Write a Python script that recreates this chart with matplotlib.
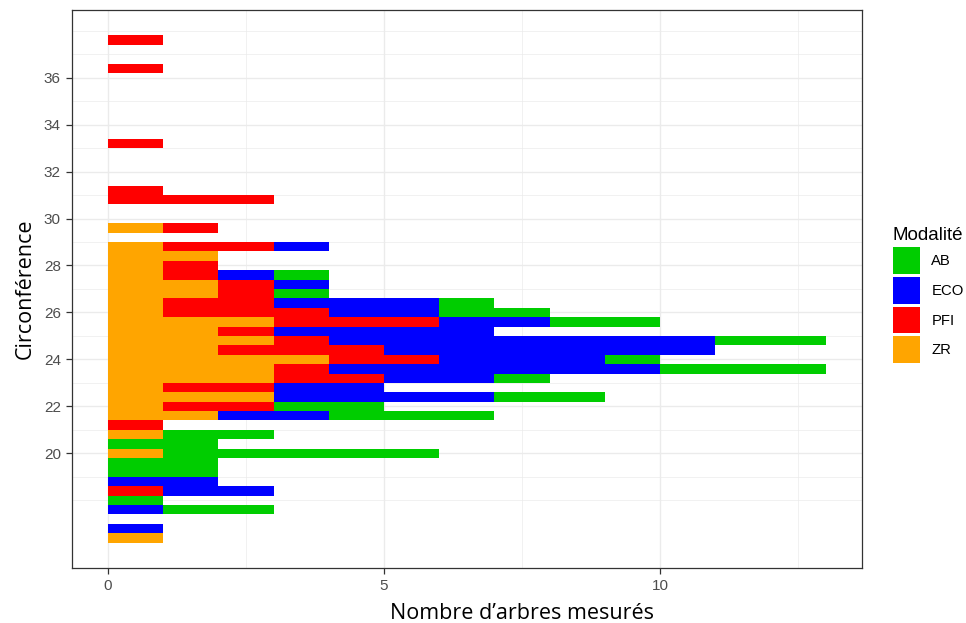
import numpy as np
import matplotlib
matplotlib.use("Agg")
import matplotlib.pyplot as plt
from matplotlib.patches import Patch

# histogram bins (circumference), width 0.4 starting at 16.2
bin_start = 16.2
bin_width = 0.4
n_bins = 54

# counts per bin, bottom to top (16.2 -> 37.8)
zr = [1, 0, 0, 0, 0, 0, 0, 0, 0, 1, 0, 1, 0, 2, 1, 3, 1, 3, 3, 4, 2, 3, 2, 3, 1, 1, 2,
      2, 1, 1, 2, 1, 0, 1, 0, 0, 0, 0, 0, 0, 0, 0, 0, 0, 0, 0, 0, 0, 0, 0, 0, 0, 0, 0]
pfi = [0, 0, 0, 0, 0, 1, 0, 0, 0, 0, 0, 0, 1, 0, 2, 0, 2, 2, 1, 2, 3, 1, 1, 3, 3, 2, 1,
       1, 1, 1, 0, 2, 0, 1, 0, 0, 3, 1, 0, 0, 0, 0, 1, 0, 0, 0, 0, 0, 0, 0, 1, 0, 0, 1]
eco = [0, 1, 0, 1, 0, 2, 2, 0, 0, 0, 0, 0, 0, 2, 0, 4, 2, 2, 6, 3, 6, 7, 4, 2, 2, 3, 0,
       1, 1, 0, 0, 1, 0, 0, 0, 0, 0, 0, 0, 0, 0, 0, 0, 0, 0, 0, 0, 0, 0, 0, 0, 0, 0, 0]
ab = [0, 0, 0, 2, 1, 0, 0, 2, 2, 5, 2, 2, 0, 3, 2, 2, 0, 1, 3, 1, 0, 2, 0, 2, 2, 1, 1,
      0, 1, 0, 0, 0, 0, 0, 0, 0, 0, 0, 0, 0, 0, 0, 0, 0, 0, 0, 0, 0, 0, 0, 0, 0, 0, 0]

groupes = ["AB", "ECO", "PFI", "ZR"]
couleurs = {"AB": "#00CD00", "ECO": "#0000FF", "PFI": "#FF0000", "ZR": "#FFA500"}

edges = bin_start + bin_width * np.arange(n_bins)

fig = plt.figure(figsize=(9.66, 6.23), dpi=100)
ax = fig.add_axes([0.0745, 0.0883, 0.8175, 0.8957])

# stacked: ZR nearest axis, then PFI, ECO, AB
left = np.zeros(n_bins)
for nom, vals in [("ZR", zr), ("PFI", pfi), ("ECO", eco), ("AB", ab)]:
    vals = np.array(vals)
    ax.barh(edges, vals, height=bin_width, left=left, align="edge",
            color=couleurs[nom], linewidth=0, zorder=3)
    left += vals

ax.set_xlim(-0.65, 13.65)
ax.set_ylim(15.12, 38.88)

ax.set_xticks([0, 5, 10])
ax.set_yticks(range(20, 37, 2))
ax.set_xticks([2.5, 7.5, 12.5], minor=True)
ax.set_yticks([18, 19, 21, 23, 25, 27, 29, 31, 33, 35, 37, 38], minor=True)

ax.grid(which="major", color="#EBEBEB", linewidth=1.0, zorder=0)
ax.grid(which="minor", color="#EBEBEB", linewidth=0.5, zorder=0)
ax.set_axisbelow(True)

for s in ax.spines.values():
    s.set_color("#333333")
    s.set_linewidth(0.9)

ax.tick_params(which="major", length=4, width=0.9, color="#333333",
               labelsize=11, labelcolor="#4D4D4D", pad=4)
ax.tick_params(which="minor", length=0)
for lab in ax.get_xticklabels() + ax.get_yticklabels():
    lab.set_family(["Liberation Sans", "DejaVu Sans"])

ax.set_xlabel("Nombre d’arbres mesurés", fontsize=15.5, family="Open Sans",
              labelpad=7, x=0.57)
ax.set_ylabel("Circonférence", fontsize=15.5, family="Open Sans", labelpad=6)

handles = [Patch(facecolor=couleurs[g], edgecolor="none", label=g) for g in groupes]
leg = fig.legend(handles=handles, title="Modalité", loc="upper left",
                 bbox_to_anchor=(0.918, 0.645), frameon=False,
                 prop={"family": "Liberation Sans", "size": 10.7},
                 handlelength=1.85, handleheight=2.4, handletextpad=0.75,
                 labelspacing=0.2, borderaxespad=0)
leg.get_title().set_fontsize(13.5)
leg.get_title().set_family("Liberation Sans")
leg._legend_box.align = "left"

fig.savefig("out.png", dpi=100)
